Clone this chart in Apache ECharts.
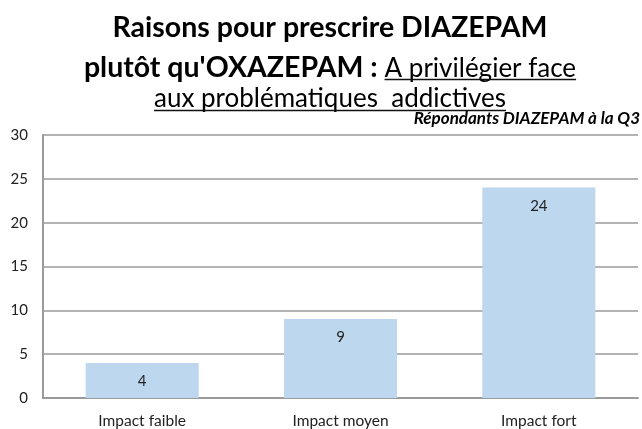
<!DOCTYPE html>
<html>
<head>
<meta charset="utf-8">
<script src="https://cdn.jsdelivr.net/npm/echarts@6/dist/echarts.min.js"></script>
<style>
  html, body { margin: 0; padding: 0; background: #fff; }
  #chart { width: 642px; height: 429px; }
</style>
</head>
<body>
<div id="chart"></div>
<script>
// chart data
const categories = ['Impact faible', 'Impact moyen', 'Impact fort'];
const values = [4, 9, 24];
const yMin = 0;
const yMax = 30;
const yStep = 5;

const titleLine1 = 'Raisons pour prescrire DIAZEPAM';
const titleLine2Bold = "plutôt qu'OXAZEPAM : ";
const titleLine2Under = 'A privilégier face';
const titleLine3 = 'aux problématiques  addictives';
const subText = 'Répondants DIAZEPAM à la Q3';

const FONT = 'Lato, "Open Sans", sans-serif';
const boldFont = 'bold 28.5px ' + FONT;
const normFont = '26px ' + FONT;

// measure text so underlines sit under the right words
const ctx = document.createElement('canvas').getContext('2d');
function tw(text, font) {
    ctx.font = font;
    return ctx.measureText(text).width;
}

const cx = 330;
const wB = tw(titleLine2Bold, boldFont);
const wN = tw(titleLine2Under, normFont);
const line2Start = cx - (wB + wN) / 2;
const w3 = tw(titleLine3, normFont);

const chart = echarts.init(document.getElementById('chart'));

chart.setOption({
    animation: false,
    grid: { left: 43, right: 4, top: 135, bottom: 30 },
    graphic: [
        {
            type: 'text', x: cx, y: 42,
            style: { text: titleLine1, font: boldFont, fill: '#000', align: 'center', verticalAlign: 'bottom' }
        },
        {
            type: 'text', x: line2Start, y: 82,
            style: { text: titleLine2Bold, font: boldFont, fill: '#000', align: 'left', verticalAlign: 'bottom' }
        },
        {
            type: 'text', x: line2Start + wB, y: 82,
            style: { text: titleLine2Under, font: normFont, fill: '#000', align: 'left', verticalAlign: 'bottom' }
        },
        {
            type: 'line',
            shape: { x1: line2Start + wB, y1: 79.5, x2: line2Start + wB + wN, y2: 79.5 },
            style: { stroke: '#111', lineWidth: 1.5 }
        },
        {
            type: 'text', x: cx, y: 112,
            style: { text: titleLine3, font: normFont, fill: '#000', align: 'center', verticalAlign: 'bottom' }
        },
        {
            type: 'line',
            shape: { x1: cx - w3 / 2, y1: 110.5, x2: cx + w3 / 2, y2: 110.5 },
            style: { stroke: '#111', lineWidth: 1.5 }
        },
        {
            type: 'text', x: 640, y: 127.5,
            style: { text: subText, font: 'italic bold 17px ' + FONT, fill: '#000', align: 'right', verticalAlign: 'bottom' }
        }
    ],
    xAxis: {
        type: 'category',
        data: categories,
        axisTick: { show: false },
        axisLine: { lineStyle: { color: '#9a9a9a', width: 2 } },
        axisLabel: { color: '#222', fontSize: 15.5, fontFamily: FONT, margin: 15 }
    },
    yAxis: {
        type: 'value',
        min: yMin,
        max: yMax,
        interval: yStep,
        axisLine: { show: true, lineStyle: { color: '#9a9a9a', width: 2 } },
        axisTick: { show: false },
        splitLine: { lineStyle: { color: '#9a9a9a', width: 1.5 } },
        axisLabel: { color: '#222', fontSize: 15, fontFamily: FONT, margin: 15 }
    },
    series: [{
        type: 'bar',
        data: values,
        barWidth: '57%',
        itemStyle: { color: '#bdd7ee' },
        label: {
            show: true,
            position: 'insideTop',
            distance: 11,
            color: '#222',
            fontSize: 15,
            fontFamily: FONT
        }
    }]
});
</script>
</body>
</html>
